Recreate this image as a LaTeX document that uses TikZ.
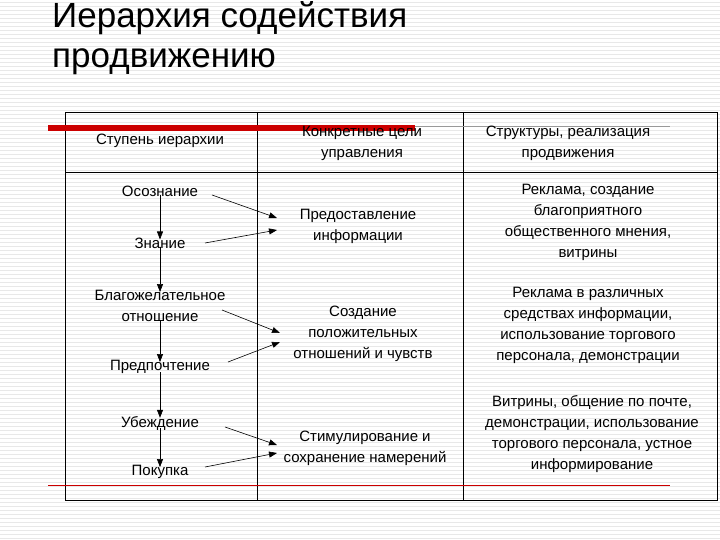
\documentclass[tikz,border=0pt]{standalone}
\usepackage{fontspec}
\setmainfont{Liberation Sans}
\usetikzlibrary{arrows.meta}
\begin{document}
\begin{tikzpicture}[x=1pt,y=-1pt,
  txt/.style={align=center,font=\fontsize{15}{21}\selectfont,inner sep=0pt},
  arr/.style={-{Triangle[length=8pt,width=6pt]},line width=0.6pt},
  rule/.style={line width=0.7pt}]
\useasboundingbox (0,0) rectangle (720,540);
\fill[white] (0,0) rectangle (720,540);
\foreach \y in {2,6,...,538} \draw[black!9,line width=0.6pt] (0,\y) -- (720,\y);
\node[anchor=west,align=left,font=\fontsize{35}{40}\selectfont,inner sep=0pt] (title) at (52,38) {Иерархия содействия\\продвижению};
% table
\draw[rule] (65,112) rectangle (717,500);
\draw[rule] (65,172) -- (717,172);
\draw[rule] (257,112) -- (257,500);
\draw[rule] (463,112) -- (463,500);
\draw[red!80!black,line width=6pt] (48,128) -- (415,128);
\draw[black!40,line width=0.5pt] (415,126) -- (670,126);
\draw[red!80!black,line width=0.6pt] (48,485) -- (670,485);
% headers
\node[txt] (h1) at (160,141) {Ступень иерархии};
\node[txt] (h2) at (362,143) {Конкретные цели\\управления};
\node[txt] (h3) at (568,143) {Структуры, реализация\\продвижения};
% left
\node[txt] (l1) at (160,191) {Осознание};
\node[txt] (l2) at (160,243) {Знание};
\node[txt] (l3) at (160,306) {Благожелательное\\отношение};
\node[txt] (l4) at (160,367) {Предпочтение};
\node[txt] (l5) at (160,423) {Убеждение};
\node[txt] (l6) at (160,472) {Покупка};
\draw[arr] ([yshift=2pt]l1.south) -- ([yshift=-2pt]l2.north);
\draw[arr] ([yshift=2pt]l2.south) -- ([yshift=-2pt]l3.north);
\draw[arr] ([yshift=2pt]l3.south) -- ([yshift=-2pt]l4.north);
\draw[arr] ([yshift=2pt]l4.south) -- ([yshift=-2pt]l5.north);
\draw[arr] ([yshift=2pt]l5.south) -- ([yshift=-2pt]l6.north);
% middle
\node[txt] (m1) at (358,226) {Предоставление\\информации};
\node[txt] (m2) at (363,334) {Создание\\положительных\\отношений и чувств};
\node[txt] (m3) at (365,448) {Стимулирование и\\сохранение намерений};
\coordinate (a1) at (277,218); \coordinate (a2) at (277,230);
\coordinate (b1) at (280,333); \coordinate (b2) at (280,342);
\coordinate (c1) at (277,445); \coordinate (c2) at (277,453);
\coordinate (s1) at (212,195); \coordinate (s2) at (205,243);
\coordinate (s3) at (222,310); \coordinate (s4) at (228,362);
\coordinate (s5) at (225,427); \coordinate (s6) at (205,467);
\draw[arr] (s1) -- (a1);
\draw[arr] (s2) -- (a2);
\draw[arr] (s3) -- (b1);
\draw[arr] (s4) -- (b2);
\draw[arr] (s5) -- (c1);
\draw[arr] (s6) -- (c2);
% right
\node[txt] (r1) at (588,222) {Реклама, создание\\благоприятного\\общественного мнения,\\витрины};
\node[txt] (r2) at (588,325) {Реклама в различных\\средствах информации,\\использование торгового\\персонала, демонстрации};
\node[txt] (r3) at (592,434) {Витрины, общение по почте,\\демонстрации, использование\\торгового персонала, устное\\информирование};
\end{tikzpicture}
\end{document}
